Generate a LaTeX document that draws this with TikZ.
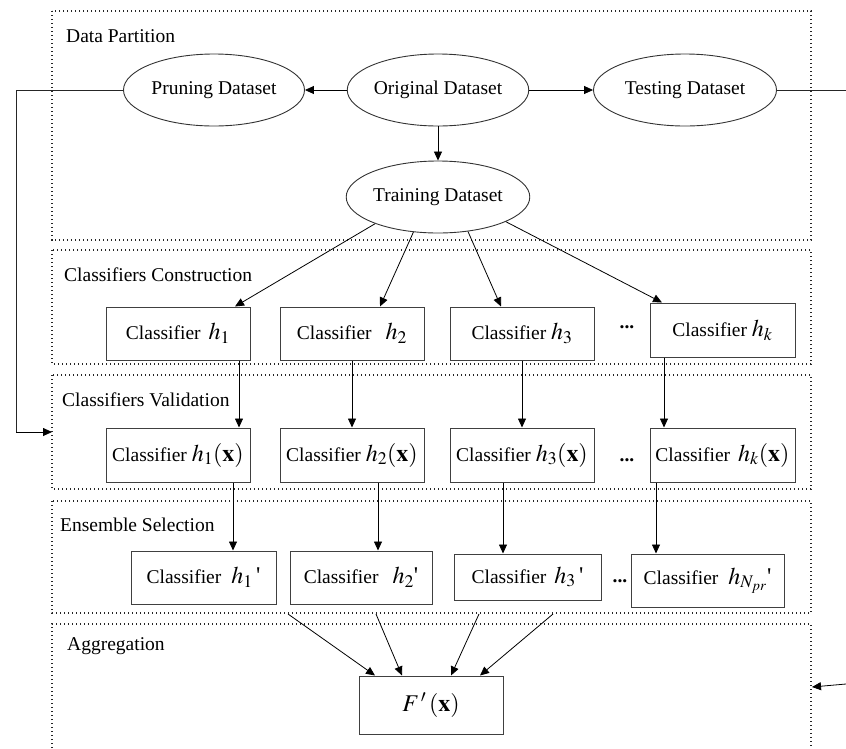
\documentclass[tikz,border=0pt]{standalone}
\usepackage{mathptmx}
\usepackage[no-math]{fontspec}
\setmainfont{Liberation Serif}
\newfontfamily\tnrfont{Liberation Serif}
\usetikzlibrary{shapes.geometric,arrows.meta,calc}
\newcommand{\mymath}[1]{{\fontsize{24}{26}\selectfont$#1$}}
\newcommand{\myprime}{{\fontsize{24}{26}\selectfont\textquotesingle}}
\begin{document}
\begin{tikzpicture}[x=1pt,y=-1pt,
  every node/.style={font=\tnrfont\fontsize{19.5}{22}\selectfont},
  sect/.style={draw=black!85,line width=1.1pt,dash pattern=on 1.1pt off 2.9pt},
  ell/.style={ellipse,draw=black!80,line width=0.9pt,minimum width=181pt,minimum height=72pt,inner sep=0pt},
  box/.style={rectangle,draw=black!75,line width=1pt,minimum width=144pt,minimum height=53pt,inner sep=0pt},
  arr/.style={draw=black,line width=0.8pt,-{Triangle[length=9pt,width=8pt]}},
  ln/.style={draw=black!85,line width=0.9pt},
  lbl/.style={anchor=base west,inner sep=0pt}]
\useasboundingbox (0,0) rectangle (846,748);
% section frames
\draw[sect] (52,11) rectangle (811,240);
\draw[sect] (52,250) rectangle (811,364);
\draw[sect] (52,375) rectangle (811,489);
\draw[sect] (52,501) rectangle (811,613);
\draw[sect] (52,748) -- (52,624) -- (811,624) -- (811,748);
% section labels
\node[lbl] (l1) at (66,42) {Data Partition};
\node[lbl] (l2) at (64,281) {Classifiers Construction};
\node[lbl] (l3) at (62,406) {Classifiers Validation};
\node[lbl] (l4) at (60,531) {Ensemble Selection};
\node[lbl] (l5) at (67,650) {Aggregation};
% ellipses
\node[ell] (P) at (214,90) {Pruning Dataset};
\node[ell] (O) at (438,90) {Original Dataset};
\node[ell,minimum width=183pt] (Te) at (685,90) {Testing Dataset};
\node[ell] (Tr) at (438,197) {Training Dataset};
\draw[arr] (O.west) -- (P.east);
\draw[arr] (O.east) -- (Te.west);
\draw[arr] (O.south) -- (Tr.north);
% construction
\node[box] (C1) at (178,333.5) {Classifier\hspace{8pt}\mymath{h_1}};
\node[box] (C2) at (352,333.5) {Classifier\hspace{14pt}\mymath{h_2}};
\node[box] (C3) at (522,333.5) {Classifier \mymath{h_3}};
\node[box,minimum width=145pt,minimum height=54pt] (C4) at (722.5,330) {Classifier \mymath{h_k}};
\node (d1) at (627,327) {\textbf{...}};
% validation
\node[box,minimum height=54pt] (V1) at (178,455) {Classifier \mymath{h_1(\mathbf{x})}};
\node[box,minimum height=54pt] (V2) at (352,455) {Classifier \mymath{h_2(\mathbf{x})}};
\node[box,minimum height=54pt] (V3) at (522,455) {Classifier \mymath{h_3(\mathbf{x})}};
\node[box,minimum width=145pt,minimum height=54pt] (V4) at (722.5,455) {Classifier\hspace{8pt}\mymath{h_k(\mathbf{x})}};
\node (d2) at (627,460) {\textbf{...}};
% ensemble
\node[box,minimum width=145pt] (E1) at (203.5,577.5) {Classifier\hspace{10pt}\mymath{h_1}\,\myprime};
\node[box,minimum width=142pt] (E2) at (361,577.5) {Classifier\hspace{14pt}\mymath{h_2}\myprime};
\node[box,minimum width=147pt,minimum height=46pt] (E3) at (527.5,577) {Classifier\hspace{8pt}\mymath{h_3}\,\myprime};
\node[box,minimum width=153pt] (E4) at (707.5,580.5) {Classifier\hspace{10pt}\mymath{h_{N_{pr}}}\myprime};
\node (d3) at (620,581) {\textbf{...}};
% aggregation
\node[box,minimum height=58pt] (F) at (431,705) {\mymath{F^{\,\prime}\,(\mathbf{x})}};
% training -> construction
\draw[arr] (Tr.-157) -- ([xshift=57pt]C1.north);
\draw[arr] (Tr.-125) -- ([xshift=28pt]C2.north);
\draw[arr] (Tr.-49) -- ([xshift=-21pt]C3.north);
\draw[arr] (Tr.-20) -- ([xshift=-60.5pt]C4.north);
% construction -> validation
\draw[arr] ([xshift=61pt]C1.south) -- ([xshift=61pt]V1.north);
\draw[arr] (C2.south) -- (V2.north);
\draw[arr] (C3.south) -- (V3.north);
\draw[arr] ([xshift=-58.5pt]C4.south) -- ([xshift=-58.5pt]V4.north);
% validation -> ensemble
\draw[arr] ([xshift=55pt]V1.south) -- ([xshift=29.5pt]E1.north);
\draw[arr] ([xshift=26pt]V2.south) -- ([xshift=17pt]E2.north);
\draw[arr] ([xshift=-19pt]V3.south) -- ([xshift=-24.5pt]E3.north);
\draw[arr] ([xshift=-66.5pt]V4.south) -- ([xshift=-51.5pt]E4.north);
% ensemble -> aggregation
\coordinate (a1) at (288,614);
\coordinate (a2) at (376,614);
\coordinate (a3) at (479,614);
\coordinate (a4) at (553,614);
\draw[arr] (a1) -- ([xshift=-56pt]F.north);
\draw[arr] (a2) -- ([xshift=-29pt]F.north);
\draw[arr] (a3) -- ([xshift=20pt]F.north);
\draw[arr] (a4) -- ([xshift=49pt]F.north);
% pruning loop
\coordinate (lc) at (16,432);
\coordinate (lin) at (52,432);
\draw[ln] (P.west) -| (lc);
\draw[arr] (lc) -- (lin);
% testing out / in
\coordinate (rout) at (846,90);
\draw[ln] (Te.east) -- (rout);
\coordinate (rin1) at (846,684);
\coordinate (rin2) at (812,687);
\draw[arr] (rin1) -- (rin2);
\end{tikzpicture}
\end{document}
